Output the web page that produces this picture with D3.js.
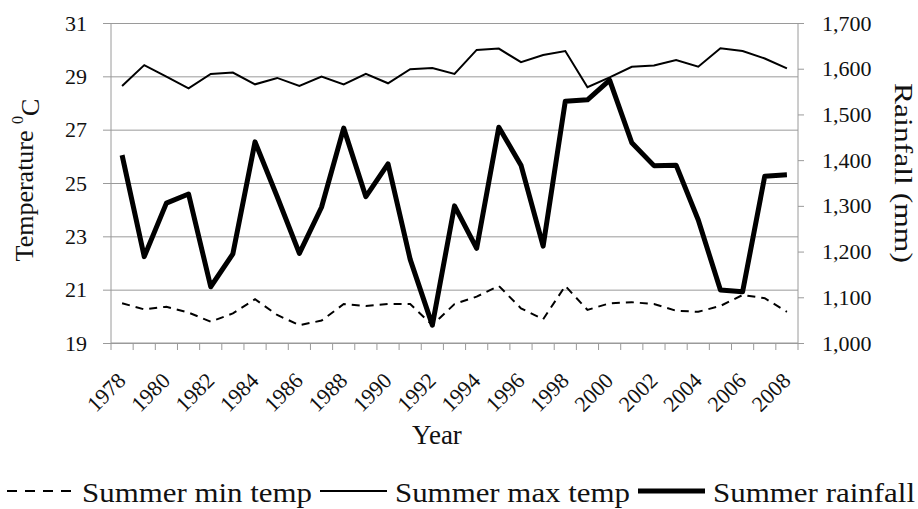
<!DOCTYPE html>
<html>
<head>
<meta charset="utf-8">
<script src="https://cdn.jsdelivr.net/npm/d3@7"></script>
<style>
  body { margin: 0; background: #fff; }
  svg text { font-family: "Liberation Serif", "Times New Roman", Tinos, "Nimbus Roman", "DejaVu Serif", serif; fill: #111; }
</style>
</head>
<body>
<svg id="chart" width="918" height="509"></svg>
<script>
// data
var years = d3.range(1978, 2009);
var maxTemp = [28.64, 29.42, 28.99, 28.55, 29.09, 29.14, 28.70, 28.94, 28.64, 28.99, 28.70,
               29.09, 28.74, 29.27, 29.31, 29.09, 29.99, 30.04, 29.53, 29.80, 29.95,
               28.59, 28.96, 29.36, 29.41, 29.61, 29.36, 30.05, 29.95, 29.67, 29.30];
var minTemp = [20.49, 20.26, 20.36, 20.14, 19.80, 20.11, 20.64, 20.05, 19.67, 19.84, 20.46,
               20.39, 20.46, 20.46, 19.67, 20.46, 20.74, 21.14, 20.30, 19.89, 21.14,
               20.24, 20.49, 20.53, 20.46, 20.21, 20.17, 20.39, 20.80, 20.68, 20.17];
var rainfall = [1411, 1189, 1306, 1326, 1123, 1195, 1440, 1320, 1196, 1297, 1470,
                1320, 1392, 1183, 1039, 1300, 1207, 1472, 1389, 1212, 1529,
                1532, 1575, 1438, 1388, 1389, 1269, 1116, 1112, 1365, 1368];
var tempTicks = [19, 21, 23, 25, 27, 29, 31];
var rainTicks = [1000, 1100, 1200, 1300, 1400, 1500, 1600, 1700];
var legendNames = ["Summer min temp", "Summer max temp", "Summer rainfall"];

// plot box
var pL = 111, pR = 798, pT = 23, pB = 343;
var svg = d3.select("#chart");
var grey = "#9a9a9a";

var x = d3.scaleBand().domain(years).range([pL, pR]);
var yT = d3.scaleLinear().domain([19, 31]).range([pB, pT]);
var yR = d3.scaleLinear().domain([1000, 1700]).range([pB, pT]);
var cx = function (d) { return x(d) + x.bandwidth() / 2; };

// gridlines + left axis
var leftAxis = d3.axisLeft(yT).tickValues(tempTicks).tickSize(-(pR - pL)).tickPadding(24);
var gL = svg.append("g").attr("transform", "translate(" + pL + ",0)").call(leftAxis)
  .attr("font-size", 22);
gL.select(".domain").remove();
gL.selectAll(".tick line").attr("stroke", grey).attr("x1", -8);
gL.selectAll(".tick text").attr("fill", "#111");

// right axis
var rightAxis = d3.axisRight(yR).tickValues(rainTicks).tickSize(6).tickPadding(18)
  .tickFormat(d3.format(","));
var gR = svg.append("g").attr("transform", "translate(" + pR + ",0)").call(rightAxis)
  .attr("font-size", 22);
gR.select(".domain").attr("stroke", grey).attr("d", "M0," + pT + "V" + pB);
gR.selectAll(".tick line").attr("stroke", grey);
gR.selectAll(".tick text").attr("fill", "#111");

// left vertical axis line
svg.append("line").attr("x1", pL).attr("x2", pL).attr("y1", pT).attr("y2", pB)
  .attr("stroke", grey);

// bottom axis: ticks between categories
var gB = svg.append("g");
gB.append("line").attr("x1", pL).attr("x2", pR).attr("y1", pB).attr("y2", pB)
  .attr("stroke", grey);
gB.selectAll("line.tk").data(years.concat([2009])).enter().append("line")
  .attr("class", "tk")
  .attr("x1", function (d) { return d === 2009 ? pR : x(d); })
  .attr("x2", function (d) { return d === 2009 ? pR : x(d); })
  .attr("y1", pB).attr("y2", pB + 7)
  .attr("stroke", grey);
gB.selectAll("text").data(years.filter(function (d) { return d % 2 === 0; })).enter()
  .append("text")
  .attr("transform", function (d) { return "translate(" + (cx(d) + 5) + "," + (pB + 39) + ") rotate(-45)"; })
  .attr("text-anchor", "end")
  .attr("font-size", 22)
  .text(function (d) { return d; });

// lines
var lineT = d3.line().x(function (d, i) { return cx(years[i]); }).y(function (d) { return yT(d); });
var lineR = d3.line().x(function (d, i) { return cx(years[i]); }).y(function (d) { return yR(d); });

svg.append("path").attr("d", lineT(minTemp)).attr("fill", "none").attr("stroke", "#000")
  .attr("stroke-width", 2).attr("stroke-dasharray", "8,6");
svg.append("path").attr("d", lineT(maxTemp)).attr("fill", "none").attr("stroke", "#000")
  .attr("stroke-width", 2);
svg.append("path").attr("d", lineR(rainfall)).attr("fill", "none").attr("stroke", "#000")
  .attr("stroke-width", 5).attr("stroke-linejoin", "round");

// axis titles
var tt = svg.append("text").attr("transform", "translate(33,180) rotate(-90)")
  .attr("text-anchor", "middle").attr("font-size", 26);
tt.append("tspan").text("Temperature ");
tt.append("tspan").attr("dy", "-0.6em").attr("font-size", 16).text("0");
tt.append("tspan").attr("dy", "0.6em").text("C");

svg.append("text").attr("transform", "translate(895,173) rotate(90)")
  .attr("text-anchor", "middle").attr("font-size", 25)
  .attr("textLength", 180).attr("lengthAdjust", "spacingAndGlyphs")
  .text("Rainfall (mm)");

svg.append("text").attr("x", 437).attr("y", 444).attr("text-anchor", "middle")
  .attr("font-size", 27).text("Year");

// legend
var styles = [
  { w: 2, dash: "10,8", len: 230 },
  { w: 2, dash: null, len: 235 },
  { w: 5, dash: null, len: 202 }
];
var lx = 7;
legendNames.forEach(function (name, i) {
  var ly = 491;
  var ln = svg.append("line").attr("x1", lx).attr("x2", lx + 67).attr("y1", ly).attr("y2", ly)
    .attr("stroke", "#000").attr("stroke-width", styles[i].w);
  if (styles[i].dash) ln.attr("stroke-dasharray", styles[i].dash);
  svg.append("text").attr("x", lx + 75).attr("y", 502)
    .attr("font-size", 27)
    .attr("textLength", styles[i].len).attr("lengthAdjust", "spacingAndGlyphs")
    .text(name);
  lx = lx + 75 + styles[i].len + 8;
});
</script>
</body>
</html>
